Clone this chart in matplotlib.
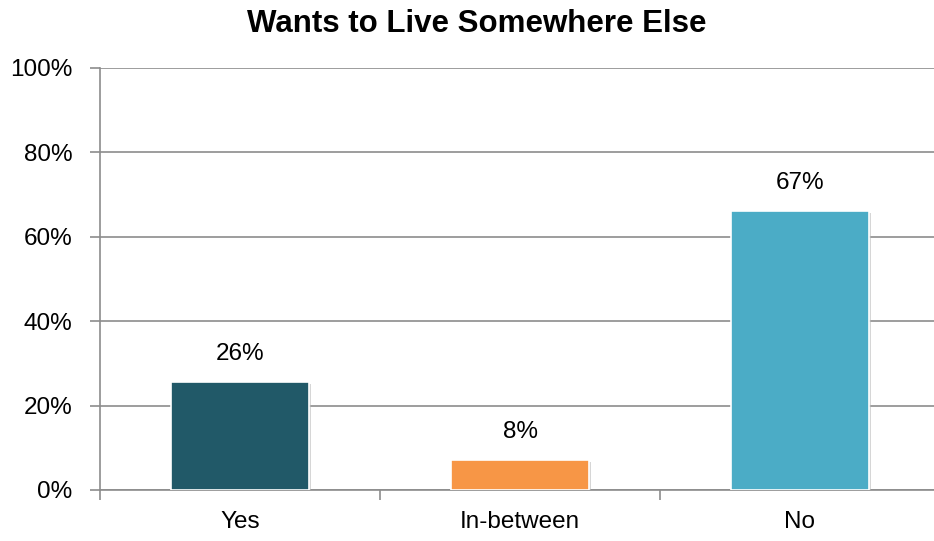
import matplotlib
matplotlib.use("Agg")
import matplotlib.pyplot as plt
import matplotlib.patheffects as pe
from matplotlib.ticker import FixedLocator

# data
categories = ["Yes", "In-between", "No"]
values = [25.6, 7.1, 66.2]
labels = ["26%", "8%", "67%"]
colors = ["#215968", "#F79646", "#4BACC6"]

plt.rcParams['font.family'] = ['Liberation Sans', 'DejaVu Sans']

W, H = 934, 541
fig = plt.figure(figsize=(W / 100, H / 100), dpi=100)
ax = fig.add_axes([100 / W, (H - 490) / H, 840 / W, 422 / H])

x = range(len(categories))
bars = ax.bar(x, values, width=0.49, color=colors, edgecolor="white", linewidth=1.2, zorder=3)
for b in bars:
    b.set_path_effects([pe.SimplePatchShadow(offset=(1.5, -1.5), shadow_rgbFace="#bbbbbb", alpha=0.6), pe.Normal()])

for i, (v, lab) in enumerate(zip(values, labels)):
    ax.text(i, v + 4.0, lab, ha="center", va="bottom", fontsize=17.5, color="black")

ax.set_xlim(-0.5, 2.5)
ax.set_ylim(0, 100)
ax.set_yticks(range(0, 101, 20))
ax.set_yticklabels([f"{t}%" for t in range(0, 101, 20)], fontsize=17.5)
ax.yaxis.grid(True, color="#8c8c8c", linewidth=1.2, zorder=0)
ax.set_axisbelow(True)

ax.set_xticks(list(x))
ax.set_xticklabels(categories, fontsize=17.5)
ax.tick_params(axis="x", length=0, pad=15)
ax.xaxis.set_minor_locator(FixedLocator([-0.5, 0.5, 1.5, 2.5]))
ax.tick_params(axis="x", which="minor", length=7, width=1.2, color="#8c8c8c")
ax.tick_params(axis="y", length=7, width=1.2, color="#8c8c8c", pad=13)

for s in ["top", "right"]:
    ax.spines[s].set_visible(False)
for s in ["left", "bottom"]:
    ax.spines[s].set_color("#8c8c8c")
    ax.spines[s].set_linewidth(1.2)

fig.text(477 / W, 1 - 24 / H, "Wants to Live Somewhere Else", ha="center", va="center",
         fontsize=22.5, fontweight="bold")

fig.savefig("out.png", dpi=100, facecolor="white")
